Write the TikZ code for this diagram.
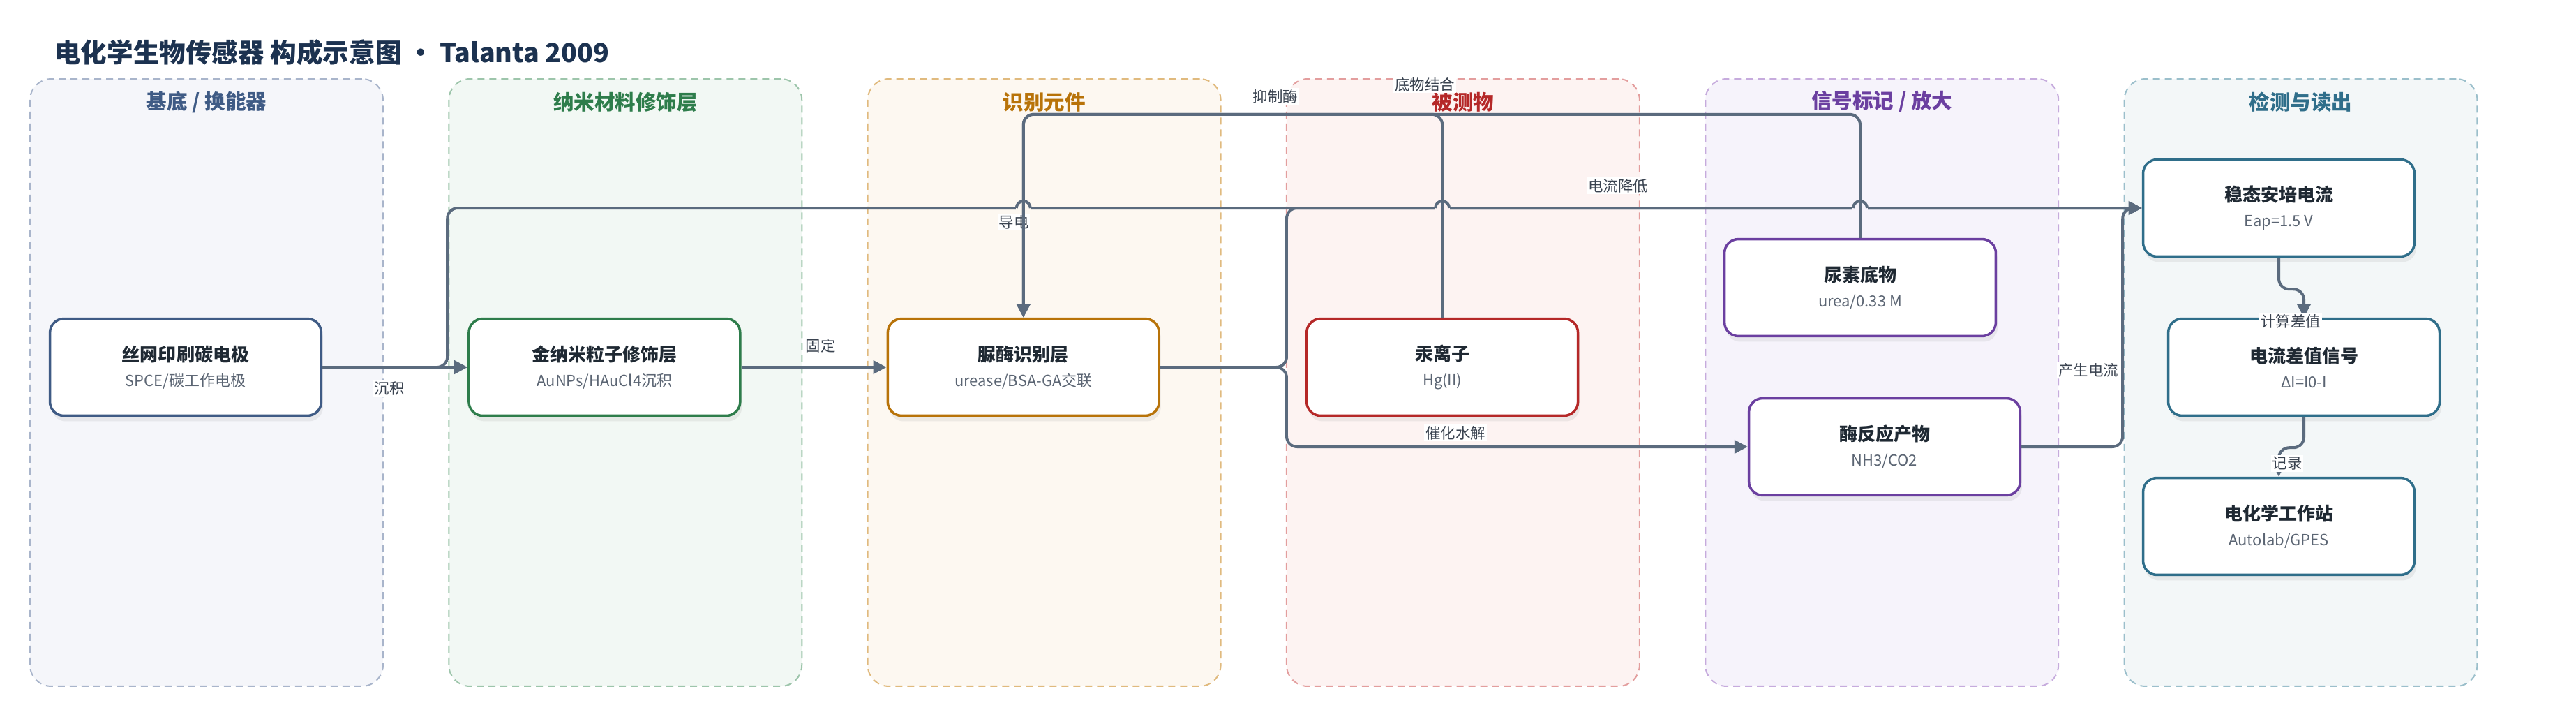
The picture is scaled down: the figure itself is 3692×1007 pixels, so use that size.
\documentclass[tikz,border=0pt]{standalone}
\usepackage{fontspec}
\setmainfont{Noto Sans CJK SC}
\usetikzlibrary{arrows.meta,positioning,calc,shadows}

\definecolor{ink}{HTML}{1C3250}
\definecolor{wire}{HTML}{5B6B7E}
\definecolor{txt}{HTML}{1F2933}
\definecolor{subtxt}{HTML}{5B6573}
\definecolor{lbltxt}{HTML}{3A4350}
% lane colours: c = text/border, f = fill, d = dashed frame
\definecolor{cA}{HTML}{3F5B85}\definecolor{fA}{HTML}{F5F6FA}\definecolor{dA}{HTML}{A9B5CB}
\definecolor{cB}{HTML}{2E7D4B}\definecolor{fB}{HTML}{F2F8F4}\definecolor{dB}{HTML}{9DC5AB}
\definecolor{cC}{HTML}{B87309}\definecolor{fC}{HTML}{FDF8F1}\definecolor{dC}{HTML}{E0BA7E}
\definecolor{cD}{HTML}{B52828}\definecolor{fD}{HTML}{FDF3F2}\definecolor{dD}{HTML}{E39E9E}
\definecolor{cE}{HTML}{6B3FA0}\definecolor{fE}{HTML}{F6F3FB}\definecolor{dE}{HTML}{C6ABDD}
\definecolor{cF}{HTML}{2F6E8A}\definecolor{fF}{HTML}{F3F7F8}\definecolor{dF}{HTML}{9BBFCB}

\tikzset{
  >={Triangle[length=0.38cm, width=0.38cm]},
  lane/.style 2 args={draw=#2, fill=#1, dash pattern=on 0.2cm off 0.14cm,
    line width=0.04cm, rounded corners=0.6cm,
    minimum width=10.12cm, minimum height=17.4cm},
  lanetitle/.style={text=#1, font=\fontsize{16.8}{20}\selectfont\bfseries},
  box/.style={draw=#1, fill=white, line width=0.07cm, rounded corners=0.4cm,
    minimum width=7.78cm, minimum height=2.78cm, align=center,
    font=\fontsize{12.5}{20.5}\selectfont,
    drop shadow={opacity=0.12, shadow xshift=0.05cm, shadow yshift=-0.16cm}},
  flow/.style={draw=wire, line width=0.08cm, rounded corners=0.3cm, ->},
  hop/.style={draw=wire, line width=0.08cm},
  edgelabel/.style={fill=white, inner sep=0.04cm, text=lbltxt,
    font=\fontsize{12.2}{14}\selectfont},
}
\newcommand{\boxtext}[2]{{\fontsize{14.8}{18}\selectfont\bfseries\color{txt}#1}\\{\color{subtxt}#2}}

\begin{document}
\begin{tikzpicture}[x=0.02cm, y=-0.02cm, node distance=4.16cm]
  \useasboundingbox (0,0) rectangle (3692,1007);

  % swim lanes
  \node[lane={fA}{dA}] (laneA) at (296,548) {};
  \node[lane={fB}{dB}] (laneB) at (896.3,548) {};
  \node[lane={fC}{dC}] (laneC) at (1496.6,548) {};
  \node[lane={fD}{dD}] (laneD) at (2096.9,548) {};
  \node[lane={fE}{dE}] (laneE) at (2697.2,548) {};
  \node[lane={fF}{dF}] (laneF) at (3297.5,548) {};
  \node[lanetitle=cA] (tA) at (296,146) {基底 / 换能器};
  \node[lanetitle=cB] (tB) at (896.3,146) {纳米材料修饰层};
  \node[lanetitle=cC] (tC) at (1496.6,146) {识别元件};
  \node[lanetitle=cD] (tD) at (2096.9,146) {被测物};
  \node[lanetitle=cE] (tE) at (2697.2,146) {信号标记 / 放大};
  \node[lanetitle=cF] (tF) at (3297.5,146) {检测与读出};

  \node[anchor=west, text=ink, font=\fontsize{21.4}{24}\selectfont\bfseries] (title)
    at (72,75) {电化学生物传感器 构成示意图 · Talanta 2009};

  % components
  \node[box=cA] (spce) at (266,526) {\boxtext{丝网印刷碳电极}{SPCE/碳工作电极}};
  \node[box=cB, right=of spce] (aunp) {\boxtext{金纳米粒子修饰层}{AuNPs/HAuCl4沉积}};
  \node[box=cC, right=of aunp] (urease) {\boxtext{脲酶识别层}{urease/BSA-GA交联}};
  \node[box=cD, right=of urease] (hg) {\boxtext{汞离子}{Hg(II)}};
  \node[box=cE] (urea) at (2666,412) {\boxtext{尿素底物}{urea/0.33 M}};
  \node[box=cE] (product) at (2701,640) {\boxtext{酶反应产物}{NH3/CO2}};
  \node[box=cF] (current) at (3266,298) {\boxtext{稳态安培电流}{Eap=1.5 V}};
  \node[box=cF] (diff) at (3302,526) {\boxtext{电流差值信号}{ΔI=I0-I}};
  \node[box=cF] (station) at (3266,754) {\boxtext{电化学工作站}{Autolab/GPES}};

  % connectors
  \draw[flow] (spce.east) -- (aunp.west);
  \draw[flow] (aunp.east) -- (urease.west);
  \draw[flow] (spce.east) -- ++(179,0) |- (current.west);
  \draw[flow] (urease.east) -- ++(181,0) |- (current.west);
  \draw[flow] (urease.east) -- ++(181,0) |- (product.west);
  \draw[flow] (product.east) -- ++(145,0) |- (current.west);
  \draw[flow] (current.south) -- ++(0,45) -| (diff.north);
  \draw[flow] (diff.south) -- ++(0,44) -| (station.north);

  % line hops where the bus comes down
  \coordinate (hopA) at (urease.north |- current.west);
  \coordinate (hopB) at (hg.north |- current.west);
  \coordinate (hopC) at (urea.north |- current.west);
  \fill[fC] ($(hopA)+(-11,-3.5)$) rectangle ($(hopA)+(11,3.5)$);
  \fill[fD] ($(hopB)+(-11,-3.5)$) rectangle ($(hopB)+(11,3.5)$);
  \fill[fE] ($(hopC)+(-11,-3.5)$) rectangle ($(hopC)+(11,3.5)$);
  \draw[hop] ($(hopA)+(-10,0)$) arc[start angle=180, end angle=0, radius=0.2cm];
  \draw[hop] ($(hopB)+(-10,0)$) arc[start angle=180, end angle=0, radius=0.2cm];
  \draw[hop] ($(hopC)+(-10,0)$) arc[start angle=180, end angle=0, radius=0.2cm];

  % labels
  \node[edgelabel] (lDep) at (558,556) {沉积};
  \node[edgelabel] (lFix) at (1176,495) {固定};
  \node[edgelabel] (lCond) at (1453,318) {导电};
  \node[edgelabel] (lInh) at (1828,138) {抑制酶};
  \node[edgelabel] (lBind) at (2042,121) {底物结合};
  \node[edgelabel] (lDrop) at (2319,266) {电流降低};
  \node[edgelabel] (lHyd) at (2086,620) {催化水解};
  \node[edgelabel] (lGen) at (2993,530) {产生电流};
  \node[edgelabel] (lCalc) at (3283,460) {计算差值};
  \node[edgelabel] (lRec) at (3278,664) {记录};

  % bus into the enzyme layer
  \draw[flow] (hg.north) -- ++(0,-291) -| (urease.north);
  \draw[flow] (urea.north) -- ++(0,-177) -| (urease.north);
\end{tikzpicture}
\end{document}
